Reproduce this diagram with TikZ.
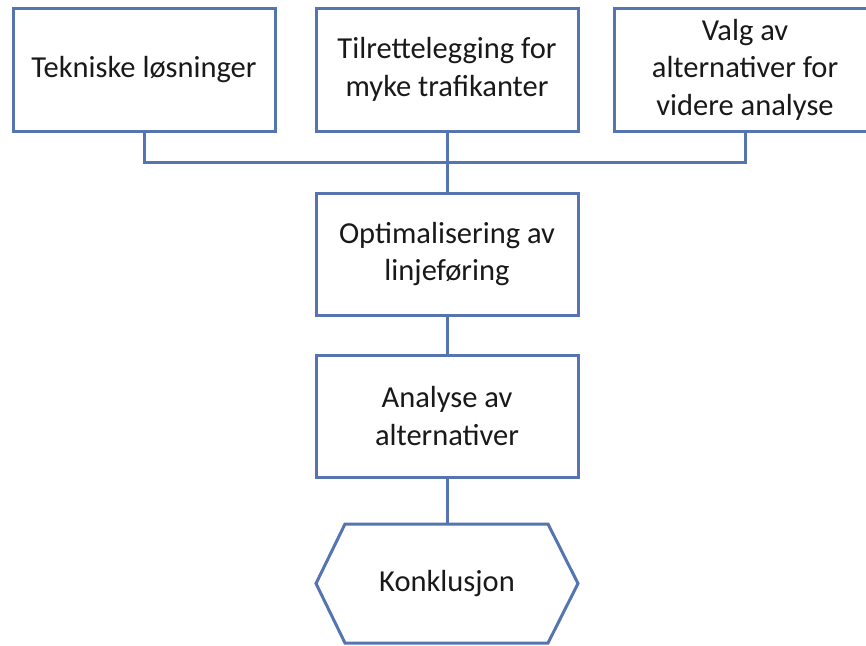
\documentclass[tikz,border=0pt]{standalone}
\usepackage{fontspec}
\setmainfont{Carlito}
\definecolor{boxline}{RGB}{84,117,176}
\definecolor{txt}{RGB}{25,25,25}
\begin{document}
\begin{tikzpicture}[x=1pt,y=-1pt,
  stagebox/.style={draw=boxline, line width=3pt, fill=white, minimum width=262pt, minimum height=123pt,
    align=center, text=txt, font=\fontsize{30.5}{37.5}\selectfont, inner sep=0pt},
  link/.style={draw=boxline, line width=3pt}]
\useasboundingbox (0,0) rectangle (866,645);
\clip (0,0) rectangle (866,645);
\node[stagebox] (tek) at (144,69.5) {Tekniske løsninger};
\node[stagebox] (til) at (447,69.5) {Tilrettelegging for\\myke trafikanter};
\node[stagebox] (valg) at (745,69.5) {Valg av\\alternativer for\\videre analyse};
\node[stagebox, minimum height=122pt] (opt) at (447,254) {Optimalisering av\\linjeføring};
\node[stagebox, minimum height=122pt] (ana) at (447,416) {Analyse av\\alternativer};
\node[minimum width=262pt, minimum height=119pt, outer sep=0pt, inner sep=0pt, text=txt,
  font=\fontsize{30.5}{37.5}\selectfont] (kon) at (447,583.5) {Konklusjon};
\draw[link, line join=miter] (kon.west) -- ([xshift=29pt]kon.north west) -- ([xshift=-30pt]kon.north east)
  -- (kon.east) -- ([xshift=-30pt]kon.south east) -- ([xshift=29pt]kon.south west) -- cycle;
\coordinate (bus) at (447,162);
\draw[link] (tek.south) |- (bus) -| (valg.south);
\draw[link] (til.south) -- (opt.north);
\draw[link] (opt.south) -- (ana.north);
\draw[link] (ana.south) -- (kon.north);
\end{tikzpicture}
\end{document}
